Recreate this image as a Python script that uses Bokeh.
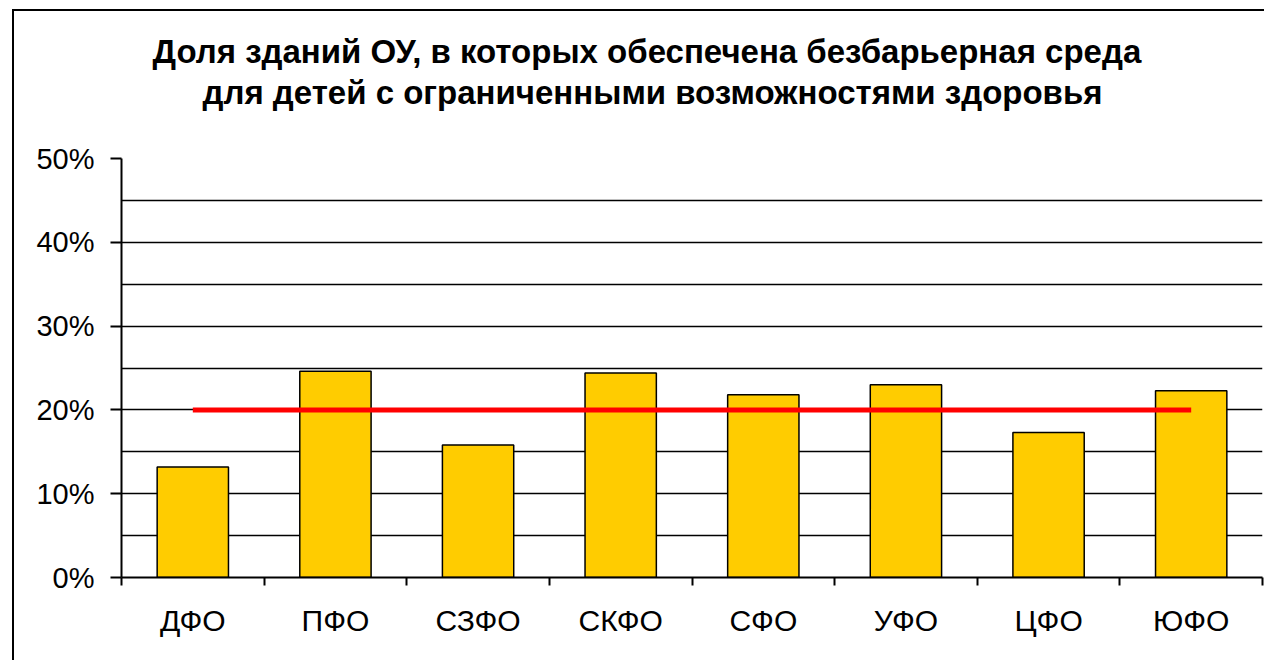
from bokeh.plotting import figure
from bokeh.models import (Range1d, FixedTicker, NumeralTickFormatter, LinearAxis, Title)
from bokeh.embed import file_html
from bokeh.resources import INLINE

categories = ["ДФО", "ПФО", "СЗФО", "СКФО", "СФО", "УФО", "ЦФО", "ЮФО"]
shares = [0.132, 0.246, 0.158, 0.244, 0.218, 0.230, 0.173, 0.223]
average = [0.20, 0.20, 0.20, 0.20, 0.20, 0.20, 0.20, 0.20]
y_ticks = [0.0, 0.1, 0.2, 0.3, 0.4, 0.5]
y_minor = [0.05, 0.15, 0.25, 0.35, 0.45]
title_lines = ["Доля зданий ОУ, в которых обеспечена безбарьерная среда",
               "для детей с ограниченными возможностями здоровья"]

FONT = "Liberation Sans"
n = len(categories)
xc = [i + 0.5 for i in range(n)]

p = figure(width=1264, height=660, x_range=Range1d(0, n), y_range=Range1d(0, 0.5),
           output_backend="svg", toolbar_location=None, x_axis_location=None,
           min_border_left=121, min_border_right=2, min_border_top=158,
           min_border_bottom=83)
p.outline_line_color = None
p.xgrid.visible = False
p.border_fill_color = None
p.background_fill_color = None
p.styles = {
    "background-color": "white",
    "background-image": "linear-gradient(black, black), linear-gradient(black, black)",
    "background-size": "2px 100%, 100% 2px",
    "background-position": "12px 9px, 12px 9px",
    "background-repeat": "no-repeat, no-repeat",
}

ticker = FixedTicker(ticks=y_ticks, minor_ticks=y_minor)
yax = p.yaxis[0]
yax.ticker = ticker
yax.formatter = NumeralTickFormatter(format="0%")
yax.major_label_text_font = FONT
yax.major_label_text_font_size = "29px"
yax.major_label_text_color = "black"
yax.major_tick_out = 11
yax.major_tick_in = 0
yax.minor_tick_line_color = None
yax.axis_line_color = "black"
yax.axis_line_width = 2
yax.major_tick_line_color = "black"
yax.major_tick_line_width = 2
yax.major_label_standoff = 16

p.ygrid.ticker = ticker
p.ygrid.grid_line_color = "black"
p.ygrid.grid_line_width = 1.5
p.ygrid.minor_grid_line_color = "black"
p.ygrid.minor_grid_line_width = 1.5

tick_axis = LinearAxis(ticker=FixedTicker(ticks=list(range(n + 1))),
                       major_tick_out=8, major_tick_in=0,
                       major_tick_line_color="black", major_tick_line_width=2,
                       minor_tick_line_color=None,
                       axis_line_color="black", axis_line_width=2,
                       major_label_text_font_size="1px",
                       major_label_text_color=None,
                       major_label_standoff=0)
p.add_layout(tick_axis, "below")
cat_axis = LinearAxis(ticker=FixedTicker(ticks=xc),
                      major_label_overrides={x: c for x, c in zip(xc, categories)},
                      major_tick_line_color=None, minor_tick_line_color=None,
                      axis_line_color=None,
                      major_label_text_font=FONT,
                      major_label_text_font_size="30px",
                      major_label_text_color="black",
                      major_label_standoff=12)
p.add_layout(cat_axis, "below")

p.vbar(x=xc, top=shares, width=0.5, fill_color="#FFCC00",
       line_color="black", line_width=1.5)
p.line(x=xc, y=average, line_color="#FF0000", line_width=5)

# blank spacer between the frame and the title block
p.add_layout(Title(text=" ", standoff=14, text_font=FONT, text_font_size="28px",
                   text_color="black"), "above")
p.add_layout(Title(text=title_lines[1], align="left", offset=81, standoff=2,
                   text_font=FONT, text_font_size="33px", text_font_style="bold",
                   text_color="black"), "above")
p.add_layout(Title(text=title_lines[0], align="left", offset=31, standoff=2,
                   text_font=FONT, text_font_size="33px", text_font_style="bold",
                   text_color="black"), "above")

open("out.html", "w").write(file_html(p, INLINE))
